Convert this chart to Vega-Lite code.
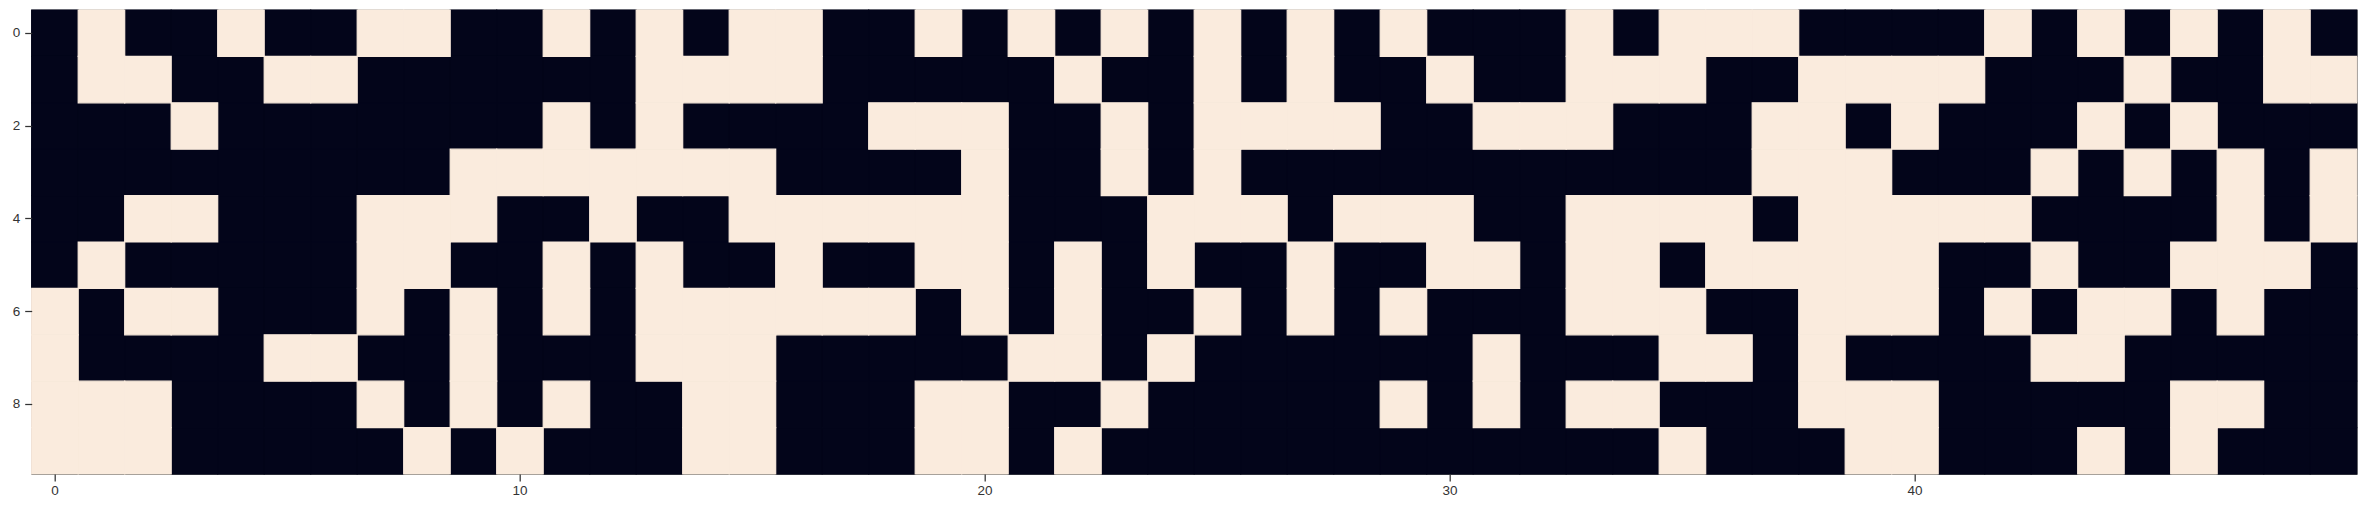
{
  "$schema": "https://vega.github.io/schema/vega-lite/v6.json",
  "autosize": {"type": "none"},
  "width": 2325,
  "height": 464,
  "padding": {"left": 31.7, "top": 10, "right": 9, "bottom": 38},
  "background": "white",
  "config": {
    "view": {"stroke": "#333333", "strokeWidth": 1.25, "fill": "#03051A"},
    "axis": {"labelFont": "Liberation Sans", "labelFontSize": 13.5, "labelColor": "#333333", "tickColor": "#333333", "tickWidth": 1.25, "tickSize": 7, "domain": false, "grid": false, "title": null}
  },
  "data": {"values": [
{"r":0,"c":0,"v":0},{"r":0,"c":1,"v":1},{"r":0,"c":2,"v":0},{"r":0,"c":3,"v":0},{"r":0,"c":4,"v":1},{"r":0,"c":5,"v":0},{"r":0,"c":6,"v":0},{"r":0,"c":7,"v":1},{"r":0,"c":8,"v":1},{"r":0,"c":9,"v":0},
{"r":0,"c":10,"v":0},{"r":0,"c":11,"v":1},{"r":0,"c":12,"v":0},{"r":0,"c":13,"v":1},{"r":0,"c":14,"v":0},{"r":0,"c":15,"v":1},{"r":0,"c":16,"v":1},{"r":0,"c":17,"v":0},{"r":0,"c":18,"v":0},{"r":0,"c":19,"v":1},
{"r":0,"c":20,"v":0},{"r":0,"c":21,"v":1},{"r":0,"c":22,"v":0},{"r":0,"c":23,"v":1},{"r":0,"c":24,"v":0},{"r":0,"c":25,"v":1},{"r":0,"c":26,"v":0},{"r":0,"c":27,"v":1},{"r":0,"c":28,"v":0},{"r":0,"c":29,"v":1},
{"r":0,"c":30,"v":0},{"r":0,"c":31,"v":0},{"r":0,"c":32,"v":0},{"r":0,"c":33,"v":1},{"r":0,"c":34,"v":0},{"r":0,"c":35,"v":1},{"r":0,"c":36,"v":1},{"r":0,"c":37,"v":1},{"r":0,"c":38,"v":0},{"r":0,"c":39,"v":0},
{"r":0,"c":40,"v":0},{"r":0,"c":41,"v":0},{"r":0,"c":42,"v":1},{"r":0,"c":43,"v":0},{"r":0,"c":44,"v":1},{"r":0,"c":45,"v":0},{"r":0,"c":46,"v":1},{"r":0,"c":47,"v":0},{"r":0,"c":48,"v":1},{"r":0,"c":49,"v":0},
{"r":1,"c":0,"v":0},{"r":1,"c":1,"v":1},{"r":1,"c":2,"v":1},{"r":1,"c":3,"v":0},{"r":1,"c":4,"v":0},{"r":1,"c":5,"v":1},{"r":1,"c":6,"v":1},{"r":1,"c":7,"v":0},{"r":1,"c":8,"v":0},{"r":1,"c":9,"v":0},
{"r":1,"c":10,"v":0},{"r":1,"c":11,"v":0},{"r":1,"c":12,"v":0},{"r":1,"c":13,"v":1},{"r":1,"c":14,"v":1},{"r":1,"c":15,"v":1},{"r":1,"c":16,"v":1},{"r":1,"c":17,"v":0},{"r":1,"c":18,"v":0},{"r":1,"c":19,"v":0},
{"r":1,"c":20,"v":0},{"r":1,"c":21,"v":0},{"r":1,"c":22,"v":1},{"r":1,"c":23,"v":0},{"r":1,"c":24,"v":0},{"r":1,"c":25,"v":1},{"r":1,"c":26,"v":0},{"r":1,"c":27,"v":1},{"r":1,"c":28,"v":0},{"r":1,"c":29,"v":0},
{"r":1,"c":30,"v":1},{"r":1,"c":31,"v":0},{"r":1,"c":32,"v":0},{"r":1,"c":33,"v":1},{"r":1,"c":34,"v":1},{"r":1,"c":35,"v":1},{"r":1,"c":36,"v":0},{"r":1,"c":37,"v":0},{"r":1,"c":38,"v":1},{"r":1,"c":39,"v":1},
{"r":1,"c":40,"v":1},{"r":1,"c":41,"v":1},{"r":1,"c":42,"v":0},{"r":1,"c":43,"v":0},{"r":1,"c":44,"v":0},{"r":1,"c":45,"v":1},{"r":1,"c":46,"v":0},{"r":1,"c":47,"v":0},{"r":1,"c":48,"v":1},{"r":1,"c":49,"v":1},
{"r":2,"c":0,"v":0},{"r":2,"c":1,"v":0},{"r":2,"c":2,"v":0},{"r":2,"c":3,"v":1},{"r":2,"c":4,"v":0},{"r":2,"c":5,"v":0},{"r":2,"c":6,"v":0},{"r":2,"c":7,"v":0},{"r":2,"c":8,"v":0},{"r":2,"c":9,"v":0},
{"r":2,"c":10,"v":0},{"r":2,"c":11,"v":1},{"r":2,"c":12,"v":0},{"r":2,"c":13,"v":1},{"r":2,"c":14,"v":0},{"r":2,"c":15,"v":0},{"r":2,"c":16,"v":0},{"r":2,"c":17,"v":0},{"r":2,"c":18,"v":1},{"r":2,"c":19,"v":1},
{"r":2,"c":20,"v":1},{"r":2,"c":21,"v":0},{"r":2,"c":22,"v":0},{"r":2,"c":23,"v":1},{"r":2,"c":24,"v":0},{"r":2,"c":25,"v":1},{"r":2,"c":26,"v":1},{"r":2,"c":27,"v":1},{"r":2,"c":28,"v":1},{"r":2,"c":29,"v":0},
{"r":2,"c":30,"v":0},{"r":2,"c":31,"v":1},{"r":2,"c":32,"v":1},{"r":2,"c":33,"v":1},{"r":2,"c":34,"v":0},{"r":2,"c":35,"v":0},{"r":2,"c":36,"v":0},{"r":2,"c":37,"v":1},{"r":2,"c":38,"v":1},{"r":2,"c":39,"v":0},
{"r":2,"c":40,"v":1},{"r":2,"c":41,"v":0},{"r":2,"c":42,"v":0},{"r":2,"c":43,"v":0},{"r":2,"c":44,"v":1},{"r":2,"c":45,"v":0},{"r":2,"c":46,"v":1},{"r":2,"c":47,"v":0},{"r":2,"c":48,"v":0},{"r":2,"c":49,"v":0},
{"r":3,"c":0,"v":0},{"r":3,"c":1,"v":0},{"r":3,"c":2,"v":0},{"r":3,"c":3,"v":0},{"r":3,"c":4,"v":0},{"r":3,"c":5,"v":0},{"r":3,"c":6,"v":0},{"r":3,"c":7,"v":0},{"r":3,"c":8,"v":0},{"r":3,"c":9,"v":1},
{"r":3,"c":10,"v":1},{"r":3,"c":11,"v":1},{"r":3,"c":12,"v":1},{"r":3,"c":13,"v":1},{"r":3,"c":14,"v":1},{"r":3,"c":15,"v":1},{"r":3,"c":16,"v":0},{"r":3,"c":17,"v":0},{"r":3,"c":18,"v":0},{"r":3,"c":19,"v":0},
{"r":3,"c":20,"v":1},{"r":3,"c":21,"v":0},{"r":3,"c":22,"v":0},{"r":3,"c":23,"v":1},{"r":3,"c":24,"v":0},{"r":3,"c":25,"v":1},{"r":3,"c":26,"v":0},{"r":3,"c":27,"v":0},{"r":3,"c":28,"v":0},{"r":3,"c":29,"v":0},
{"r":3,"c":30,"v":0},{"r":3,"c":31,"v":0},{"r":3,"c":32,"v":0},{"r":3,"c":33,"v":0},{"r":3,"c":34,"v":0},{"r":3,"c":35,"v":0},{"r":3,"c":36,"v":0},{"r":3,"c":37,"v":1},{"r":3,"c":38,"v":1},{"r":3,"c":39,"v":1},
{"r":3,"c":40,"v":0},{"r":3,"c":41,"v":0},{"r":3,"c":42,"v":0},{"r":3,"c":43,"v":1},{"r":3,"c":44,"v":0},{"r":3,"c":45,"v":1},{"r":3,"c":46,"v":0},{"r":3,"c":47,"v":1},{"r":3,"c":48,"v":0},{"r":3,"c":49,"v":1},
{"r":4,"c":0,"v":0},{"r":4,"c":1,"v":0},{"r":4,"c":2,"v":1},{"r":4,"c":3,"v":1},{"r":4,"c":4,"v":0},{"r":4,"c":5,"v":0},{"r":4,"c":6,"v":0},{"r":4,"c":7,"v":1},{"r":4,"c":8,"v":1},{"r":4,"c":9,"v":1},
{"r":4,"c":10,"v":0},{"r":4,"c":11,"v":0},{"r":4,"c":12,"v":1},{"r":4,"c":13,"v":0},{"r":4,"c":14,"v":0},{"r":4,"c":15,"v":1},{"r":4,"c":16,"v":1},{"r":4,"c":17,"v":1},{"r":4,"c":18,"v":1},{"r":4,"c":19,"v":1},
{"r":4,"c":20,"v":1},{"r":4,"c":21,"v":0},{"r":4,"c":22,"v":0},{"r":4,"c":23,"v":0},{"r":4,"c":24,"v":1},{"r":4,"c":25,"v":1},{"r":4,"c":26,"v":1},{"r":4,"c":27,"v":0},{"r":4,"c":28,"v":1},{"r":4,"c":29,"v":1},
{"r":4,"c":30,"v":1},{"r":4,"c":31,"v":0},{"r":4,"c":32,"v":0},{"r":4,"c":33,"v":1},{"r":4,"c":34,"v":1},{"r":4,"c":35,"v":1},{"r":4,"c":36,"v":1},{"r":4,"c":37,"v":0},{"r":4,"c":38,"v":1},{"r":4,"c":39,"v":1},
{"r":4,"c":40,"v":1},{"r":4,"c":41,"v":1},{"r":4,"c":42,"v":1},{"r":4,"c":43,"v":0},{"r":4,"c":44,"v":0},{"r":4,"c":45,"v":0},{"r":4,"c":46,"v":0},{"r":4,"c":47,"v":1},{"r":4,"c":48,"v":0},{"r":4,"c":49,"v":1},
{"r":5,"c":0,"v":0},{"r":5,"c":1,"v":1},{"r":5,"c":2,"v":0},{"r":5,"c":3,"v":0},{"r":5,"c":4,"v":0},{"r":5,"c":5,"v":0},{"r":5,"c":6,"v":0},{"r":5,"c":7,"v":1},{"r":5,"c":8,"v":1},{"r":5,"c":9,"v":0},
{"r":5,"c":10,"v":0},{"r":5,"c":11,"v":1},{"r":5,"c":12,"v":0},{"r":5,"c":13,"v":1},{"r":5,"c":14,"v":0},{"r":5,"c":15,"v":0},{"r":5,"c":16,"v":1},{"r":5,"c":17,"v":0},{"r":5,"c":18,"v":0},{"r":5,"c":19,"v":1},
{"r":5,"c":20,"v":1},{"r":5,"c":21,"v":0},{"r":5,"c":22,"v":1},{"r":5,"c":23,"v":0},{"r":5,"c":24,"v":1},{"r":5,"c":25,"v":0},{"r":5,"c":26,"v":0},{"r":5,"c":27,"v":1},{"r":5,"c":28,"v":0},{"r":5,"c":29,"v":0},
{"r":5,"c":30,"v":1},{"r":5,"c":31,"v":1},{"r":5,"c":32,"v":0},{"r":5,"c":33,"v":1},{"r":5,"c":34,"v":1},{"r":5,"c":35,"v":0},{"r":5,"c":36,"v":1},{"r":5,"c":37,"v":1},{"r":5,"c":38,"v":1},{"r":5,"c":39,"v":1},
{"r":5,"c":40,"v":1},{"r":5,"c":41,"v":0},{"r":5,"c":42,"v":0},{"r":5,"c":43,"v":1},{"r":5,"c":44,"v":0},{"r":5,"c":45,"v":0},{"r":5,"c":46,"v":1},{"r":5,"c":47,"v":1},{"r":5,"c":48,"v":1},{"r":5,"c":49,"v":0},
{"r":6,"c":0,"v":1},{"r":6,"c":1,"v":0},{"r":6,"c":2,"v":1},{"r":6,"c":3,"v":1},{"r":6,"c":4,"v":0},{"r":6,"c":5,"v":0},{"r":6,"c":6,"v":0},{"r":6,"c":7,"v":1},{"r":6,"c":8,"v":0},{"r":6,"c":9,"v":1},
{"r":6,"c":10,"v":0},{"r":6,"c":11,"v":1},{"r":6,"c":12,"v":0},{"r":6,"c":13,"v":1},{"r":6,"c":14,"v":1},{"r":6,"c":15,"v":1},{"r":6,"c":16,"v":1},{"r":6,"c":17,"v":1},{"r":6,"c":18,"v":1},{"r":6,"c":19,"v":0},
{"r":6,"c":20,"v":1},{"r":6,"c":21,"v":0},{"r":6,"c":22,"v":1},{"r":6,"c":23,"v":0},{"r":6,"c":24,"v":0},{"r":6,"c":25,"v":1},{"r":6,"c":26,"v":0},{"r":6,"c":27,"v":1},{"r":6,"c":28,"v":0},{"r":6,"c":29,"v":1},
{"r":6,"c":30,"v":0},{"r":6,"c":31,"v":0},{"r":6,"c":32,"v":0},{"r":6,"c":33,"v":1},{"r":6,"c":34,"v":1},{"r":6,"c":35,"v":1},{"r":6,"c":36,"v":0},{"r":6,"c":37,"v":0},{"r":6,"c":38,"v":1},{"r":6,"c":39,"v":1},
{"r":6,"c":40,"v":1},{"r":6,"c":41,"v":0},{"r":6,"c":42,"v":1},{"r":6,"c":43,"v":0},{"r":6,"c":44,"v":1},{"r":6,"c":45,"v":1},{"r":6,"c":46,"v":0},{"r":6,"c":47,"v":1},{"r":6,"c":48,"v":0},{"r":6,"c":49,"v":0},
{"r":7,"c":0,"v":1},{"r":7,"c":1,"v":0},{"r":7,"c":2,"v":0},{"r":7,"c":3,"v":0},{"r":7,"c":4,"v":0},{"r":7,"c":5,"v":1},{"r":7,"c":6,"v":1},{"r":7,"c":7,"v":0},{"r":7,"c":8,"v":0},{"r":7,"c":9,"v":1},
{"r":7,"c":10,"v":0},{"r":7,"c":11,"v":0},{"r":7,"c":12,"v":0},{"r":7,"c":13,"v":1},{"r":7,"c":14,"v":1},{"r":7,"c":15,"v":1},{"r":7,"c":16,"v":0},{"r":7,"c":17,"v":0},{"r":7,"c":18,"v":0},{"r":7,"c":19,"v":0},
{"r":7,"c":20,"v":0},{"r":7,"c":21,"v":1},{"r":7,"c":22,"v":1},{"r":7,"c":23,"v":0},{"r":7,"c":24,"v":1},{"r":7,"c":25,"v":0},{"r":7,"c":26,"v":0},{"r":7,"c":27,"v":0},{"r":7,"c":28,"v":0},{"r":7,"c":29,"v":0},
{"r":7,"c":30,"v":0},{"r":7,"c":31,"v":1},{"r":7,"c":32,"v":0},{"r":7,"c":33,"v":0},{"r":7,"c":34,"v":0},{"r":7,"c":35,"v":1},{"r":7,"c":36,"v":1},{"r":7,"c":37,"v":0},{"r":7,"c":38,"v":1},{"r":7,"c":39,"v":0},
{"r":7,"c":40,"v":0},{"r":7,"c":41,"v":0},{"r":7,"c":42,"v":0},{"r":7,"c":43,"v":1},{"r":7,"c":44,"v":1},{"r":7,"c":45,"v":0},{"r":7,"c":46,"v":0},{"r":7,"c":47,"v":0},{"r":7,"c":48,"v":0},{"r":7,"c":49,"v":0},
{"r":8,"c":0,"v":1},{"r":8,"c":1,"v":1},{"r":8,"c":2,"v":1},{"r":8,"c":3,"v":0},{"r":8,"c":4,"v":0},{"r":8,"c":5,"v":0},{"r":8,"c":6,"v":0},{"r":8,"c":7,"v":1},{"r":8,"c":8,"v":0},{"r":8,"c":9,"v":1},
{"r":8,"c":10,"v":0},{"r":8,"c":11,"v":1},{"r":8,"c":12,"v":0},{"r":8,"c":13,"v":0},{"r":8,"c":14,"v":1},{"r":8,"c":15,"v":1},{"r":8,"c":16,"v":0},{"r":8,"c":17,"v":0},{"r":8,"c":18,"v":0},{"r":8,"c":19,"v":1},
{"r":8,"c":20,"v":1},{"r":8,"c":21,"v":0},{"r":8,"c":22,"v":0},{"r":8,"c":23,"v":1},{"r":8,"c":24,"v":0},{"r":8,"c":25,"v":0},{"r":8,"c":26,"v":0},{"r":8,"c":27,"v":0},{"r":8,"c":28,"v":0},{"r":8,"c":29,"v":1},
{"r":8,"c":30,"v":0},{"r":8,"c":31,"v":1},{"r":8,"c":32,"v":0},{"r":8,"c":33,"v":1},{"r":8,"c":34,"v":1},{"r":8,"c":35,"v":0},{"r":8,"c":36,"v":0},{"r":8,"c":37,"v":0},{"r":8,"c":38,"v":1},{"r":8,"c":39,"v":1},
{"r":8,"c":40,"v":1},{"r":8,"c":41,"v":0},{"r":8,"c":42,"v":0},{"r":8,"c":43,"v":0},{"r":8,"c":44,"v":0},{"r":8,"c":45,"v":0},{"r":8,"c":46,"v":1},{"r":8,"c":47,"v":1},{"r":8,"c":48,"v":0},{"r":8,"c":49,"v":0},
{"r":9,"c":0,"v":1},{"r":9,"c":1,"v":1},{"r":9,"c":2,"v":1},{"r":9,"c":3,"v":0},{"r":9,"c":4,"v":0},{"r":9,"c":5,"v":0},{"r":9,"c":6,"v":0},{"r":9,"c":7,"v":0},{"r":9,"c":8,"v":1},{"r":9,"c":9,"v":0},
{"r":9,"c":10,"v":1},{"r":9,"c":11,"v":0},{"r":9,"c":12,"v":0},{"r":9,"c":13,"v":0},{"r":9,"c":14,"v":1},{"r":9,"c":15,"v":1},{"r":9,"c":16,"v":0},{"r":9,"c":17,"v":0},{"r":9,"c":18,"v":0},{"r":9,"c":19,"v":1},
{"r":9,"c":20,"v":1},{"r":9,"c":21,"v":0},{"r":9,"c":22,"v":1},{"r":9,"c":23,"v":0},{"r":9,"c":24,"v":0},{"r":9,"c":25,"v":0},{"r":9,"c":26,"v":0},{"r":9,"c":27,"v":0},{"r":9,"c":28,"v":0},{"r":9,"c":29,"v":0},
{"r":9,"c":30,"v":0},{"r":9,"c":31,"v":0},{"r":9,"c":32,"v":0},{"r":9,"c":33,"v":0},{"r":9,"c":34,"v":0},{"r":9,"c":35,"v":1},{"r":9,"c":36,"v":0},{"r":9,"c":37,"v":0},{"r":9,"c":38,"v":0},{"r":9,"c":39,"v":1},
{"r":9,"c":40,"v":1},{"r":9,"c":41,"v":0},{"r":9,"c":42,"v":0},{"r":9,"c":43,"v":0},{"r":9,"c":44,"v":1},{"r":9,"c":45,"v":0},{"r":9,"c":46,"v":1},{"r":9,"c":47,"v":0},{"r":9,"c":48,"v":0},{"r":9,"c":49,"v":0}
  ]},
  "mark": {"type": "rect", "strokeWidth": 1.2},
  "encoding": {
    "x": {"field": "c", "type": "ordinal", "sort": "ascending", "scale": {"paddingInner": 0, "paddingOuter": 0}, "axis": {"values": [0, 10, 20, 30, 40], "labelAngle": 0, "labelPadding": 3}},
    "y": {"field": "r", "type": "ordinal", "sort": "ascending", "scale": {"paddingInner": 0, "paddingOuter": 0}, "axis": {"values": [0, 2, 4, 6, 8], "labelPadding": 5}},
    "color": {"field": "v", "type": "nominal", "scale": {"domain": [0, 1], "range": ["#03051A", "#FAEBDD"]}, "legend": null},
    "stroke": {"field": "v", "type": "nominal", "scale": {"domain": [0, 1], "range": ["#03051A", "#FAEBDD"]}, "legend": null},
    "order": {"field": "v", "type": "quantitative"}
  }
}
